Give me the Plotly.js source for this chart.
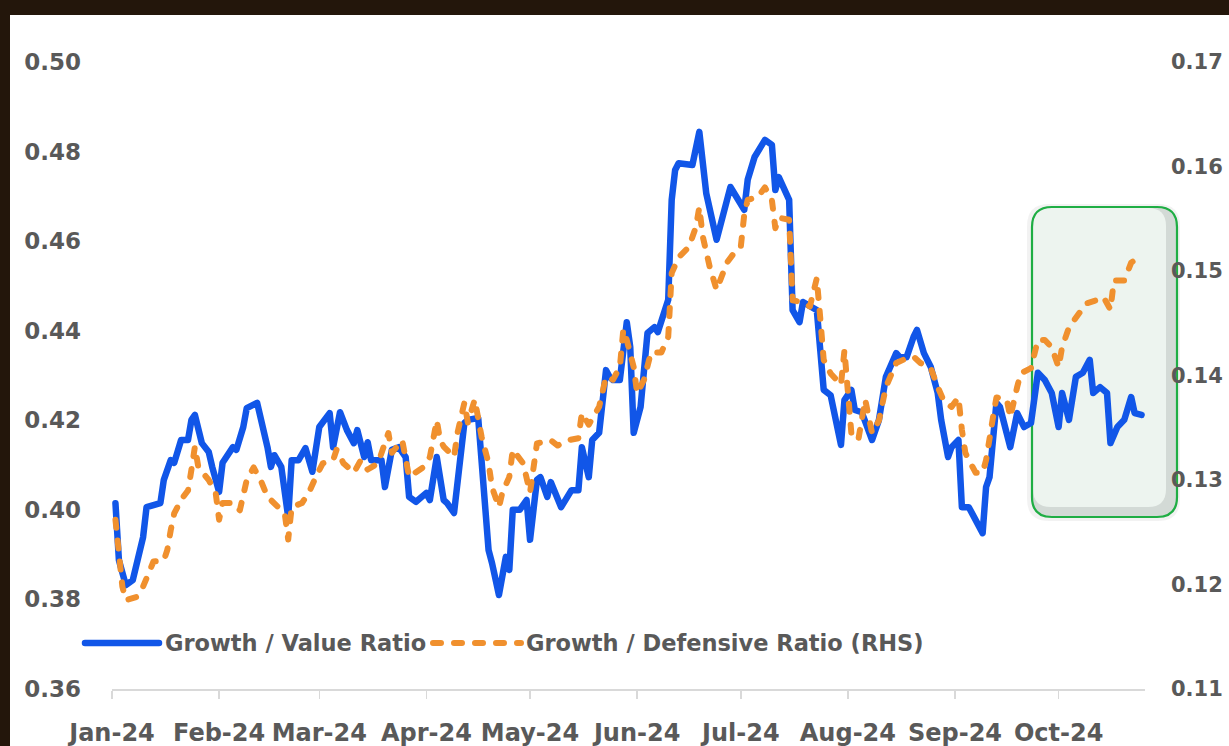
<!DOCTYPE html>
<html>
<head>
<meta charset="utf-8">
<script src="https://cdn.plot.ly/plotly-3.0.1.min.js"></script>
<style>
  html, body { margin: 0; padding: 0; width: 1229px; height: 746px; overflow: hidden; background: #23160b; }
  #chart { position: absolute; left: 10px; top: 15px; width: 1219px; height: 731px; background: #ffffff; }
</style>
</head>
<body>
<div id="chart"></div>
<script>
// ---- Data ----
const gvDates = ['2024-01-02','2024-01-03','2024-01-05','2024-01-07','2024-01-10','2024-01-11','2024-01-15','2024-01-16','2024-01-18','2024-01-19','2024-01-21','2024-01-23','2024-01-24','2024-01-25','2024-01-27','2024-01-29','2024-01-30',
'2024-02-01','2024-02-02','2024-02-05','2024-02-06','2024-02-08','2024-02-09','2024-02-12','2024-02-15','2024-02-16','2024-02-17','2024-02-19','2024-02-21','2024-02-22','2024-02-24','2024-02-26','2024-02-28',
'2024-03-01','2024-03-04','2024-03-05','2024-03-07','2024-03-09','2024-03-11','2024-03-12','2024-03-14','2024-03-15','2024-03-16','2024-03-19','2024-03-20','2024-03-22','2024-03-24','2024-03-26','2024-03-27','2024-03-29',
'2024-04-01','2024-04-02','2024-04-04','2024-04-06','2024-04-07','2024-04-09','2024-04-12','2024-04-13','2024-04-16','2024-04-19','2024-04-20','2024-04-22','2024-04-24','2024-04-25','2024-04-26','2024-04-28','2024-04-30',
'2024-05-01','2024-05-03','2024-05-04','2024-05-06','2024-05-07','2024-05-10','2024-05-13','2024-05-15','2024-05-16','2024-05-18','2024-05-19','2024-05-21','2024-05-23','2024-05-24','2024-05-25','2024-05-27','2024-05-29','2024-05-30','2024-05-31',
'2024-06-02','2024-06-04','2024-06-06','2024-06-07','2024-06-10','2024-06-11','2024-06-12','2024-06-13','2024-06-17','2024-06-19','2024-06-21','2024-06-24','2024-06-28',
'2024-07-02','2024-07-03','2024-07-05','2024-07-08','2024-07-10','2024-07-11','2024-07-12','2024-07-15','2024-07-16','2024-07-18','2024-07-19','2024-07-23','2024-07-25','2024-07-27','2024-07-30','2024-07-31',
'2024-08-02','2024-08-03','2024-08-05','2024-08-08','2024-08-10','2024-08-12','2024-08-15','2024-08-16','2024-08-18','2024-08-20','2024-08-21','2024-08-23','2024-08-25','2024-08-27','2024-08-28','2024-08-30','2024-08-31',
'2024-09-02','2024-09-03','2024-09-05','2024-09-09','2024-09-10','2024-09-11','2024-09-13','2024-09-14','2024-09-17','2024-09-19','2024-09-21','2024-09-23','2024-09-25','2024-09-27','2024-09-29',
'2024-10-01','2024-10-02','2024-10-04','2024-10-06','2024-10-08','2024-10-10','2024-10-11','2024-10-13','2024-10-15','2024-10-16','2024-10-18','2024-10-20','2024-10-22','2024-10-23','2024-10-25'];
const gvValues = [0.4015,0.3888,0.3832,0.3843,0.3939,0.4006,0.4015,0.4067,0.4111,0.4105,0.4156,0.4156,0.4201,0.4212,0.4149,0.4129,0.4096,
0.4040,0.4105,0.4140,0.4134,0.4185,0.4227,0.4239,0.4140,0.4096,0.4122,0.4096,0.3984,0.4111,0.4111,0.4138,0.4085,
0.4185,0.4216,0.4140,0.4218,0.4178,0.4149,0.4178,0.4118,0.4151,0.4111,0.4111,0.4051,0.4134,0.4140,0.4118,0.4029,0.4018,
0.4038,0.4022,0.4118,0.4022,0.4015,0.3993,0.4194,0.4201,0.4205,0.3910,0.3881,0.3810,0.3895,0.3866,0.4000,0.4000,0.4022,
0.3933,0.4067,0.4073,0.4029,0.4062,0.4006,0.4044,0.4044,0.4140,0.4073,0.4156,0.4172,0.4312,0.4297,0.4290,0.4290,0.4419,0.4364,0.4172,
0.4230,0.4395,0.4408,0.4397,0.4469,0.4692,0.4759,0.4774,0.4770,0.4844,0.4707,0.4603,0.4721,
0.4670,0.4737,0.4788,0.4826,0.4815,0.4714,0.4743,0.4692,0.4446,0.4419,0.4464,0.4446,0.4268,0.4256,0.4145,0.4245,
0.4268,0.4223,0.4218,0.4156,0.4201,0.4297,0.4350,0.4341,0.4341,0.4386,0.4402,0.4350,0.4319,0.4261,0.4201,0.4118,0.4140,
0.4156,0.4006,0.4006,0.3948,0.4051,0.4073,0.4239,0.4230,0.4140,0.4216,0.4185,0.4194,0.4306,0.4290,0.4261,
0.4185,0.4261,0.4201,0.4297,0.4306,0.4335,0.4261,0.4274,0.4261,0.4149,0.4185,0.4201,0.4252,0.4216,0.4212];

const gdDates = ['2024-01-02','2024-01-03','2024-01-04','2024-01-05','2024-01-08','2024-01-10','2024-01-11','2024-01-13','2024-01-16','2024-01-17','2024-01-18','2024-01-19','2024-01-21','2024-01-23','2024-01-24','2024-01-25','2024-01-26','2024-01-29','2024-01-31',
'2024-02-01','2024-02-02','2024-02-05','2024-02-07','2024-02-09','2024-02-11','2024-02-13','2024-02-15','2024-02-18','2024-02-20','2024-02-21','2024-02-22','2024-02-25','2024-02-27','2024-02-29',
'2024-03-02','2024-03-05','2024-03-06','2024-03-08','2024-03-11','2024-03-13','2024-03-15','2024-03-18','2024-03-21','2024-03-22','2024-03-25','2024-03-27','2024-03-31',
'2024-04-02','2024-04-04','2024-04-05','2024-04-06','2024-04-09','2024-04-10','2024-04-12','2024-04-13','2024-04-15','2024-04-17','2024-04-19','2024-04-20','2024-04-22','2024-04-23','2024-04-25','2024-04-26','2024-04-29',
'2024-05-01','2024-05-03','2024-05-07','2024-05-09','2024-05-12','2024-05-15','2024-05-16','2024-05-18','2024-05-21','2024-05-23','2024-05-25','2024-05-27','2024-05-28','2024-05-29','2024-05-31',
'2024-06-01','2024-06-03','2024-06-05','2024-06-08','2024-06-10','2024-06-11','2024-06-13','2024-06-16','2024-06-18','2024-06-19','2024-06-20','2024-06-22','2024-06-24','2024-06-27','2024-06-29',
'2024-07-01','2024-07-02','2024-07-03','2024-07-06','2024-07-08','2024-07-10','2024-07-11','2024-07-12','2024-07-15','2024-07-16','2024-07-19','2024-07-21','2024-07-23','2024-07-24','2024-07-25','2024-07-27','2024-07-30','2024-07-31',
'2024-08-01','2024-08-02','2024-08-04','2024-08-06','2024-08-08','2024-08-10','2024-08-12','2024-08-15','2024-08-17','2024-08-20','2024-08-22','2024-08-25','2024-08-27','2024-08-29','2024-08-31',
'2024-09-02','2024-09-03','2024-09-04','2024-09-05','2024-09-07','2024-09-09','2024-09-10','2024-09-12','2024-09-13','2024-09-16','2024-09-17','2024-09-19','2024-09-20','2024-09-23','2024-09-25','2024-09-27','2024-09-29',
'2024-10-01','2024-10-02','2024-10-04','2024-10-06','2024-10-09','2024-10-12','2024-10-14','2024-10-16','2024-10-17','2024-10-20','2024-10-22','2024-10-25'];
const gdValues = [0.1262,0.1223,0.1198,0.1185,0.1188,0.1198,0.1206,0.1222,0.1223,0.1233,0.1252,0.1268,0.1281,0.1290,0.1310,0.1332,0.1312,0.1300,0.1288,
0.1262,0.1278,0.1278,0.1271,0.1300,0.1312,0.1300,0.1284,0.1274,0.1268,0.1243,0.1274,0.1278,0.1288,0.1303,
0.1316,0.1319,0.1329,0.1316,0.1307,0.1319,0.1310,0.1316,0.1345,0.1326,0.1338,0.1303,0.1312,
0.1322,0.1357,0.1338,0.1332,0.1322,0.1345,0.1374,0.1355,0.1377,0.1341,0.1316,0.1293,0.1274,0.1288,0.1303,0.1329,0.1316,
0.1288,0.1335,0.1338,0.1333,0.1338,0.1340,0.1364,0.1353,0.1370,0.1399,0.1396,0.1408,0.1444,0.1434,0.1408,
0.1383,0.1396,0.1422,0.1422,0.1437,0.1498,0.1513,0.1523,0.1542,0.1561,0.1533,0.1504,0.1482,0.1508,0.1517,
0.1523,0.1554,0.1568,0.1571,0.1580,0.1568,0.1541,0.1551,0.1549,0.1472,0.1470,0.1466,0.1493,0.1455,0.1415,0.1402,0.1391,0.1424,
0.1378,0.1345,0.1338,0.1377,0.1345,0.1357,0.1389,0.1412,0.1415,0.1418,0.1412,0.1407,0.1389,0.1374,0.1370,
0.1379,0.1348,0.1326,0.1319,0.1307,0.1307,0.1319,0.1360,0.1379,0.1377,0.1360,0.1389,0.1402,0.1407,0.1434,0.1434,0.1427,
0.1408,0.1427,0.1446,0.1456,0.1469,0.1472,0.1475,0.1463,0.1491,0.1491,0.1508,0.1515];

const seriesNames = ['Growth / Value Ratio', 'Growth / Defensive Ratio (RHS)'];
const monthTicks = ['2024-01-01','2024-02-01','2024-03-01','2024-04-01','2024-05-01','2024-06-01','2024-07-01','2024-08-01','2024-09-01','2024-10-01'];
const monthLabels = ['Jan-24','Feb-24','Mar-24','Apr-24','May-24','Jun-24','Jul-24','Aug-24','Sep-24','Oct-24'];

// ---- Styling ----
const BLUE = '#1156e8';
const ORANGE = '#f0902e';
const TXT = '#595959';
const FONT = 'DejaVu Sans';
const DASH = '8px,13px';

// plot area in page pixels (div at left 10, top 15)
const PL = 112, PR = 1145, PT = 62, PB = 689;
const xp = px => (px - PL) / (PR - PL);
const yp = py => (PB - py) / (PB - PT);
function rrect(x0, y0, x1, y1, r) {
  const rx = r / (PR - PL), ry = r / (PB - PT);
  const a = xp(x0), b = xp(x1), t = yp(y0), u = yp(y1);
  return `M${a + rx},${t} L${b - rx},${t} Q${b},${t} ${b},${t - ry} L${b},${u + ry} Q${b},${u} ${b - rx},${u} L${a + rx},${u} Q${a},${u} ${a},${u + ry} L${a},${t - ry} Q${a},${t} ${a + rx},${t} Z`;
}

const traces = [
  { x: gvDates, y: gvValues, name: seriesNames[0], type: 'scatter', mode: 'lines',
    line: { color: BLUE, width: 6.5 }, yaxis: 'y', hoverinfo: 'skip' },
  { x: gdDates, y: gdValues, name: seriesNames[1], type: 'scatter', mode: 'lines',
    line: { color: ORANGE, width: 6, dash: DASH }, yaxis: 'y2', hoverinfo: 'skip' }
];

const shapes = [
  // soft outer shadow
  { type: 'path', xref: 'paper', yref: 'paper', layer: 'below', path: rrect(1027, 204, 1180, 521, 22),
    fillcolor: 'rgba(0,0,0,0.05)', line: { width: 0 } },
  // box with inner bevel
  { type: 'path', xref: 'paper', yref: 'paper', layer: 'below', path: rrect(1032, 207, 1177, 517, 20),
    fillcolor: '#d3dad6', line: { width: 0 } },
  { type: 'path', xref: 'paper', yref: 'paper', layer: 'below', path: rrect(1033, 208, 1166, 507, 18),
    fillcolor: '#edf4ef', line: { width: 0 } },
  { type: 'path', xref: 'paper', yref: 'paper', layer: 'below', path: rrect(1032, 207, 1177, 517, 20),
    fillcolor: 'rgba(0,0,0,0)', line: { color: '#1fae44', width: 2.2 } },
  // legend samples
  { type: 'line', xref: 'paper', yref: 'paper', x0: xp(85), x1: xp(159), y0: yp(643), y1: yp(643),
    line: { color: BLUE, width: 6.5 } },
  { type: 'line', xref: 'paper', yref: 'paper', x0: xp(433), x1: xp(521), y0: yp(643), y1: yp(643),
    line: { color: ORANGE, width: 6, dash: DASH } }
];

const legendFont = { family: FONT, weight: 'bold', size: 22.5, color: TXT };
const annotations = [
  { xref: 'paper', yref: 'paper', x: xp(163), y: yp(643), xanchor: 'left', yanchor: 'middle',
    text: seriesNames[0], showarrow: false, font: legendFont },
  { xref: 'paper', yref: 'paper', x: xp(524), y: yp(643), xanchor: 'left', yanchor: 'middle',
    text: seriesNames[1], showarrow: false, font: legendFont }
];

const layout = {
  width: 1219, height: 731,
  margin: { l: PL - 10, r: 1229 - PR, t: PT - 15, b: 746 - PB, pad: 0 },
  paper_bgcolor: '#ffffff', plot_bgcolor: 'rgba(0,0,0,0)',
  showlegend: false,
  font: { family: FONT, color: TXT },
  xaxis: {
    type: 'date', range: ['2024-01-01', '2024-10-26'],
    tickvals: monthTicks, ticktext: monthLabels,
    showgrid: false, zeroline: false,
    showline: true, linecolor: '#d9d9d9', linewidth: 1.5,
    ticks: 'outside', ticklen: 8, tickcolor: '#d9d9d9', tickwidth: 1.5,
    ticklabelstandoff: 14,
    tickfont: { family: FONT, weight: 'bold', size: 24, color: TXT }
  },
  yaxis: {
    range: [0.36, 0.50], dtick: 0.02, tick0: 0.36, tickformat: '.2f',
    showgrid: false, zeroline: false, showline: false, ticks: '',
    ticklabelstandoff: 30,
    tickfont: { family: FONT, weight: 'bold', size: 23, color: TXT }
  },
  yaxis2: {
    range: [0.11, 0.17], dtick: 0.01, tick0: 0.11, tickformat: '.2f',
    overlaying: 'y', side: 'right',
    showgrid: false, zeroline: false, showline: false, ticks: '',
    ticklabelstandoff: 25,
    tickfont: { family: FONT, weight: 'bold', size: 21, color: TXT }
  },
  shapes: shapes,
  annotations: annotations
};

Plotly.newPlot('chart', traces, layout, { displayModeBar: false, staticPlot: true }).then(() => {
  document.querySelectorAll('.scatterlayer .js-line, .shapelayer path').forEach(p => {
    p.style.strokeLinecap = 'round';
    p.style.strokeLinejoin = 'round';
  });
});
</script>
</body>
</html>
